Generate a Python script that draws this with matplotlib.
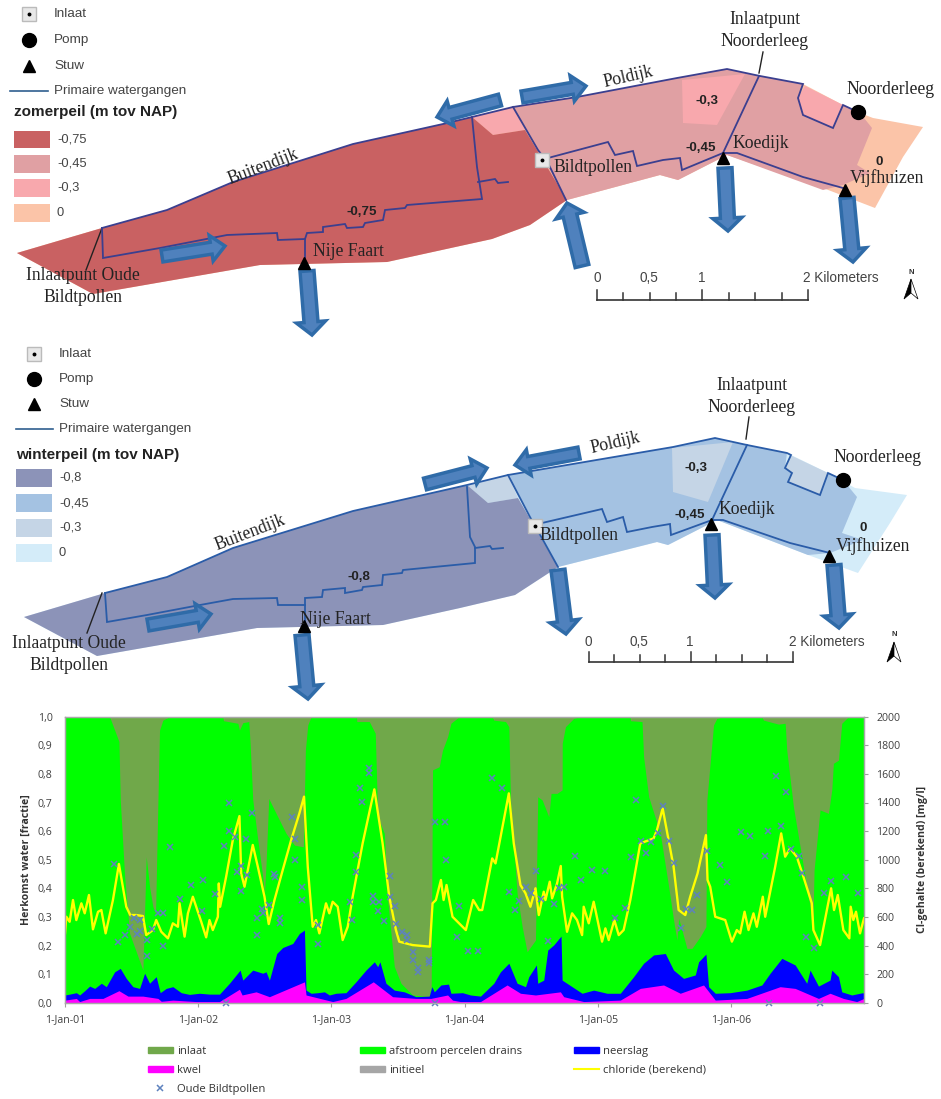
#!/usr/bin/python3

import matplotlib
matplotlib.use("Agg")
import matplotlib.pyplot as plt
from matplotlib.patches import Polygon, FancyArrow, Rectangle, Patch
from matplotlib.lines import Line2D

# ---- chart data: x is years since 1-Jan-01, fractions are cumulative tops of the stack
green_t = [0.0, .335, .373, .405, .415, .448, .485, .585, .61, .635, .66, .68, .698, .71, .735, .785,
           1.185, 1.19, 1.298, 1.31, 1.335, 1.38, 1.39, 1.41, 1.448, 1.485, 1.498, 1.51, 1.53, 1.585, 1.66, 1.723, 1.79, 1.798, 1.805, 1.823, 1.848,
           2.19, 2.191, 2.285, 2.33, 2.348, 2.398, 2.423, 2.473, 2.523, 2.61, 2.735, 2.75, 2.76, 2.81, 2.835, 2.873, 2.898, 2.96,
           3.208, 3.22, 3.308, 3.333, 3.345, 3.395, 3.433, 3.47, 3.533, 3.55, 3.583, 3.633, 3.65, 3.695, 3.733, 3.734, 3.758, 3.82, 3.87,
           4.245, 4.246, 4.333, 4.345, 4.383, 4.47, 4.533, 4.57, 4.595, 4.608, 4.633, 4.67, 4.708, 4.77, 4.813, 4.82, 4.87, 4.895, 4.945,
           5.233, 5.245, 5.358, 5.408, 5.42, 5.47, 5.545, 5.595, 5.615, 5.625, 5.67, 5.733, 5.758, 5.77, 5.808, 5.833, 5.883, 6.0]
green_top = [1.0, 1.0, .953, .913, .709, .441, .242, .114, .51, .406, .336, .312, .709, .953, .988, 1.0,
             1.0, .986, .977, .953, .979, .983, .907, .709, .569, .441, .382, .487, .714, .662, .592, .551, .545, .72, .883, .971, 1.0,
             1.0, .983, .983, .942, .65, .592, .359, .126, .068, .027, .021, .056, .814, .825, .883, .93, .977, 1.0,
             1.0, .988, .983, .965, .709, .382, .266, .178, .219, .72, .709, .65, .732, .732, .744, .907, .965, .994, 1.0,
             1.0, .986, .983, .86, .72, .592, .406, .289, .219, .295, .254, .19, .19, .231, .266, .709, .971, .994, 1.0,
             1.0, .988, .974, .977, .883, .685, .476, .336, .242, .464, .674, .662, .744, .837, .848, .977, 1.0, 1.0]

blue_t = [0.0, .035, .085, .11, .148, .185, .223, .273, .31, .373, .415, .46, .51, .56, .598, .635, .685, .715, .76, .81, .873, .935,
          1.01, 1.085, 1.16, 1.235, 1.315, 1.335, 1.41, 1.485, 1.51, 1.535, 1.59, 1.635, 1.71, 1.76, 1.798, 1.81, 1.848, 1.898, 1.948, 1.985,
          2.035, 2.11, 2.185, 2.26, 2.323, 2.348, 2.365, 2.41, 2.473, 2.548, 2.635, 2.735, 2.755, 2.773, 2.823, 2.88, 2.898, 2.985,
          3.045, 3.12, 3.22, 3.27, 3.333, 3.395, 3.458, 3.483, 3.54, 3.55, 3.595, 3.625, 3.67, 3.725, 3.733, 3.808, 3.883, 3.97,
          4.07, 4.17, 4.27, 4.345, 4.42, 4.508, 4.57, 4.645, 4.733, 4.758, 4.813, 4.833, 4.883, 4.995,
          5.12, 5.233, 5.295, 5.383, 5.483, 5.57, 5.595, 5.658, 5.745, 5.758, 5.808, 5.833, 5.908, 5.99, 6.0]
blue_top = [.027, .03, .035, .027, .042, .058, .05, .068, .056, .108, .12, .085, .056, .05, .103, .068, .091, .035, .05, .056, .035, .029,
            .033, .03, .03, .068, .114, .079, .114, .103, .108, .079, .172, .193, .207, .242, .254, .044, .033, .035, .038, .027,
            .033, .035, .073, .114, .143, .126, .143, .068, .044, .038, .021, .023, .056, .038, .062, .065, .033, .035,
            .027, .023, .068, .108, .138, .068, .056, .091, .132, .068, .079, .184, .202, .233, .079, .056, .033, .044,
            .033, .033, .091, .138, .167, .172, .114, .085, .097, .143, .17, .056, .033, .035,
            .044, .062, .103, .155, .132, .068, .114, .058, .079, .114, .091, .038, .027, .035, .033]

kwel_t = [0.0, .085, .11, .185, .285, .405, .473, .585, .698, .723, .81, .985, 1.16, 1.31, 1.33, 1.435, 1.535, 1.798, 1.81,
          2.01, 2.11, 2.315, 2.46, 2.635, 2.748, 2.873, 2.91, 2.97, 3.12, 3.32, 3.42, 3.533, 3.72, 3.745, 3.895,
          4.17, 4.32, 4.495, 4.62, 4.795, 4.883, 5.12, 5.37, 5.483, 5.658, 5.745, 5.845, 5.945, 6.0]
kwel_top = [.009, .015, .004, .015, .015, .042, .023, .023, .015, .005, .009, .004, .004, .047, .027, .038, .021, .073, .027,
            .004, .015, .073, .021, .015, .015, .027, .009, .004, .004, .062, .033, .027, .038, .021, .004,
            .009, .05, .062, .033, .062, .009, .015, .056, .05, .015, .033, .015, .004, .015]

chloride_t = [0.0, .01, .035, .06, .085, .123, .148, .18, .21, .248, .273, .305, .36, .405, .46, .49, .535, .585, .61, .66, .685, .723, .773, .81, .848, .86, .898, .923, .96,
              1.023, 1.06, 1.085, 1.11, 1.148, 1.155, 1.165, 1.21, 1.26, 1.31, 1.323, 1.348, 1.41, 1.448, 1.498, 1.53, 1.573, 1.635, 1.698, 1.76, 1.795, 1.823, 1.86, 1.885, 1.91, 1.96, 1.985,
              2.01, 2.048, 2.085, 2.123, 2.16, 2.235, 2.323, 2.385, 2.435, 2.485, 2.51, 2.61, 2.74, 2.76, 2.785, 2.823, 2.843, 2.865, 2.91, 2.96,
              3.01, 3.065, 3.11, 3.133, 3.208, 3.233, 3.333, 3.37, 3.42, 3.458, 3.495, 3.533, 3.558, 3.595, 3.608, 3.64, 3.658, 3.695, 3.723, 3.733, 3.77, 3.808, 3.845, 3.883, 3.895, 3.933, 3.97,
              4.033, 4.058, 4.083, 4.125, 4.158, 4.195, 4.245, 4.32, 4.42, 4.445, 4.488, 4.533, 4.57, 4.608, 4.658, 4.695, 4.75, 4.813, 4.825, 4.845, 4.883, 4.958,
              5.008, 5.045, 5.07, 5.103, 5.133, 5.17, 5.195, 5.24, 5.258, 5.333, 5.378, 5.408, 5.445, 5.495, 5.545, 5.608, 5.62, 5.67, 5.753, 5.775, 5.803, 5.845, 5.89, 5.9, 5.92, 5.94, 5.97, 6.0]
chloride_mgl = [485, 601, 566, 718, 578, 695, 625, 753, 513, 636, 648, 485, 718, 970, 671, 613, 613, 606, 473, 508, 578, 496, 450, 555, 531, 695, 462, 625, 741,
                566, 457, 578, 508, 601, 834, 671, 881, 1137, 1305, 904, 811, 1103, 951, 741, 550, 718, 928, 1137, 1324, 1441, 951, 531, 578, 485, 695, 625,
                706, 671, 438, 531, 741, 1114, 1492, 1114, 741, 508, 427, 403, 392, 695, 718, 858, 718, 823, 601, 555,
                508, 718, 648, 648, 1009, 974, 1464, 1114, 823, 765, 671, 800, 613, 776, 718, 846, 730, 834, 956, 741, 496, 625, 578, 473, 671, 555, 706,
                427, 520, 438, 578, 473, 508, 718, 1114, 1149, 1207, 1359, 1137, 951, 648, 613, 741, 904, 1172, 858, 811, 601, 578,
                427, 508, 485, 636, 508, 625, 531, 741, 601, 951, 1184, 1021, 1079, 1021, 881, 695, 508, 403, 800, 648, 753, 508, 450, 671, 578, 636, 485, 590]

oude_t = [.365, .40, .45, .485, .518, .54, .563, .563, .615, .615, .653, .70, .735, .735, .788, .865, .943,
          1.03, 1.038, 1.123, 1.193, 1.21, 1.23, 1.23, 1.28, 1.29, 1.323, 1.323, 1.36, 1.365, 1.403, 1.445, 1.445, 1.48, 1.49, 1.53, 1.568, 1.575, 1.615, 1.615, 1.703, 1.73, 1.73, 1.78, 1.78, 1.903, 1.903,
          2.143, 2.153, 2.188, 2.188, 2.218, 2.23, 2.28, 2.28, 2.315, 2.315, 2.36, 2.353, 2.395, 2.438, 2.438, 2.475, 2.483, 2.533, 2.565, 2.565, 2.61, 2.61, 2.648, 2.648, 2.735, 2.735, 2.775, 2.78, 2.853, 2.86, 2.955, 2.945,
          3.03, 3.105, 3.208, 3.285, 3.333, 3.378, 3.408, 3.463, 3.50, 3.535, 3.573, 3.628, 3.67, 3.708, 3.745, 3.828, 3.878, 3.958,
          4.058, 4.128, 4.203, 4.25, 4.288, 4.325, 4.365, 4.398, 4.453, 4.488, 4.538, 4.573, 4.623, 4.663, 4.708, 4.743, 4.82, 4.915, 4.97,
          5.08, 5.145, 5.26, 5.28, 5.283, 5.338, 5.375, 5.418, 5.453, 5.513, 5.533, 5.568, 5.625, 5.673, 5.703, 5.753, 5.865, 5.953]
oude_mgl = [967, 424, 471, 527, 590, 478, 578, 499, 438, 329, 517, 625, 625, 399, 1089, 725, 821,
            639, 860, 760, 1096, 0, 1394, 1200, 1161, 914, 953, 781, 1147, 890, 1329, 592, 471, 655, 625, 681, 900, 881, 592, 559, 1301, 1145, 1000, 807, 718, 543, 413,
            706, 580, 1033, 916, 1501, 1401, 1639, 1604, 746, 702, 702, 641, 573, 886, 737, 678, 550, 494, 471, 438, 352, 298, 240, 217, 298, 280, 0, 1261, 1261, 1000, 678, 459,
            359, 359, 1569, 1501, 772, 648, 713, 807, 765, 921, 725, 434, 688, 800, 807, 1028, 855, 928,
            921, 592, 660, 1021, 1415, 1133, 1047, 1126, 1189, 1375, 1133, 979, 524, 653, 646, 753, 1061, 960, 846,
            1193, 1168, 1028, 1200, 0, 1587, 1233, 1476, 1072, 1028, 907, 459, 385, 0, 767, 853, 879, 767]

year_ticks = [0, 1, 2, 3, 4, 5]
year_labels = ["1-Jan-01", "1-Jan-02", "1-Jan-03", "1-Jan-04", "1-Jan-05", "1-Jan-06"]
frac_ticks = [0.0, 0.1, 0.2, 0.3, 0.4, 0.5, 0.6, 0.7, 0.8, 0.9, 1.0]
frac_labels = ["0,0", "0,1", "0,2", "0,3", "0,4", "0,5", "0,6", "0,7", "0,8", "0,9", "1,0"]
cl_ticks = [0, 200, 400, 600, 800, 1000, 1200, 1400, 1600, 1800, 2000]

# ---- map data, in image pixels
zomer_outline = [(17, 253), (102, 228), (167, 210), (233, 182), (353, 144), (443, 124), (472, 117), (513, 107), (577, 97), (677, 78),
                 (727, 69), (760, 76), (803, 84), (843, 105), (860, 113), (873, 118), (923, 127), (903, 157), (875, 208), (823, 188),
                 (727, 155), (678, 180), (660, 175), (567, 200), (530, 225), (492, 239), (460, 246), (387, 262), (260, 265), (93, 294)]
zomer_mid = [(513, 107), (577, 97), (677, 78), (727, 69), (760, 76), (803, 84), (798, 98), (803, 115), (833, 128), (843, 105), (860, 113),
             (872, 128), (857, 165), (870, 173), (843, 185), (823, 190), (727, 155), (678, 180), (660, 175), (567, 200)]
zomer_high = [[(682, 80), (745, 74), (717, 125), (683, 123)],
              [(805, 86), (843, 105), (833, 128), (803, 115), (798, 98)],
              [(472, 117), (513, 107), (525, 130), (493, 135)]]
zomer_low = [(17, 253), (102, 228), (167, 210), (233, 182), (353, 144), (443, 124), (472, 117), (493, 135), (525, 130), (567, 200),
             (530, 225), (492, 239), (460, 246), (387, 262), (260, 265), (93, 294)]
zomer_lines = [
    [(102, 228), (167, 210), (233, 182), (353, 144), (443, 124), (472, 117), (513, 107), (577, 97), (677, 78), (727, 69), (760, 76), (803, 84),
     (798, 98), (803, 115), (833, 128), (843, 105), (858, 112)],
    [(102, 228), (103, 258), (160, 248), (227, 235), (277, 233), (278, 240), (305, 239), (307, 233), (323, 232), (323, 227), (345, 224),
     (347, 228), (363, 227), (365, 223), (383, 220), (385, 210), (405, 208), (407, 205), (482, 199), (477, 167), (472, 117)],
    [(478, 182), (495, 179), (498, 183), (508, 182)],
    [(305, 239), (305, 263)],
    [(513, 107), (538, 150), (548, 163), (566, 200)],
    [(548, 158), (608, 142), (615, 155), (633, 151), (637, 166), (663, 160), (680, 158), (682, 170), (723, 153)],
    [(723, 153), (759, 76)],
    [(723, 153), (737, 153), (803, 177), (843, 188)],
]
zomer_arrows = [(162, 256, 225, 246, 12, 26, 14), (307, 271, 312, 335, 14, 29, 13), (500, 100, 437, 117, 12, 26, 14), (522, 97, 586, 86, 12, 26, 14),
                (582, 266, 567, 203, 14, 29, 13), (725, 168, 728, 231, 14, 29, 13), (847, 198, 853, 262, 14, 29, 13)]

winter_outline = [(24, 617), (105, 593), (167, 577), (233, 548), (353, 511), (467, 485), (508, 475), (673, 447), (715, 438), (747, 445), (787, 453),
                  (828, 473), (855, 488), (907, 495), (890, 523), (858, 573), (808, 555), (717, 520), (668, 545), (657, 542), (558, 567), (515, 595),
                  (460, 608), (383, 625), (257, 628), (97, 656)]
winter_mid = [(508, 475), (673, 447), (715, 438), (747, 445), (787, 453), (785, 468), (792, 473), (788, 482), (820, 495), (828, 473), (843, 480),
              (857, 497), (842, 533), (863, 540), (830, 553), (808, 555), (717, 520), (668, 545), (657, 542), (558, 567)]
winter_high = [[(672, 448), (733, 442), (708, 502), (673, 492)],
               [(790, 455), (828, 473), (820, 495), (788, 482), (792, 473), (785, 468)],
               [(467, 485), (508, 475), (518, 498), (488, 503)]]
winter_low = [(24, 617), (105, 593), (167, 577), (233, 548), (353, 511), (467, 485), (488, 503), (518, 498), (558, 567), (515, 595),
              (460, 608), (383, 625), (257, 628), (97, 656)]
winter_lines = [
    [(105, 593), (167, 577), (233, 548), (353, 511), (467, 485), (508, 475), (673, 447), (715, 438), (747, 445), (787, 453),
     (791, 455), (785, 468), (792, 473), (788, 482), (820, 495), (828, 473), (843, 480)],
    [(105, 593), (107, 622), (147, 615), (200, 605), (233, 599), (277, 598), (278, 605), (305, 605), (305, 598), (322, 597), (323, 590), (345, 588),
     (345, 593), (362, 590), (363, 587), (382, 585), (383, 575), (402, 573), (403, 570), (475, 563), (475, 547), (470, 537), (467, 487)],
    [(475, 548), (490, 546), (492, 549), (503, 548)],
    [(305, 605), (305, 627)],
    [(508, 475), (530, 517), (543, 540), (558, 567)],
    [(542, 523), (602, 509), (607, 522), (623, 517), (627, 532), (652, 527), (670, 524), (671, 535), (712, 520)],
    [(712, 520), (747, 445)],
    [(712, 520), (723, 520), (790, 543), (830, 553)],
]
winter_arrows = [(148, 625, 211, 614, 12, 26, 14), (302, 635, 308, 699, 14, 29, 13), (425, 484, 487, 468, 12, 26, 14), (579, 453, 515, 465, 12, 26, 14),
                 (558, 570, 566, 634, 14, 29, 13), (712, 535, 715, 598, 14, 29, 13), (834, 565, 839, 628, 14, 29, 13)]

SERIF = "Liberation Serif"
SANS = "Liberation Sans"
CHART_FONT = "Open Sans"

fig = plt.figure(figsize=(9.41, 10.99), dpi=100)
mapax = fig.add_axes([0, 0, 1, 1])
mapax.set_xlim(0, 941)
mapax.set_ylim(1099, 0)
mapax.axis("off")


def draw_area(points, color, z=1):
    mapax.add_patch(Polygon(points, closed=True, facecolor=color, edgecolor="none", zorder=z))


def draw_lines(lines, color):
    for line in lines:
        xs = [p[0] for p in line]
        ys = [p[1] for p in line]
        mapax.plot(xs, ys, color=color, lw=1.3, zorder=3, solid_joinstyle="miter")


def draw_arrows(arrows):
    for x0, y0, x1, y1, w, hw, hl in arrows:
        mapax.add_patch(FancyArrow(x0, y0, x1 - x0, y1 - y0, width=w, head_width=hw, head_length=hl,
                                   length_includes_head=True, facecolor="#4F81BD", edgecolor="#2F6BA8", lw=2.5, zorder=5))


def map_text(x, y, s, size=12.7, rot=0):
    mapax.text(x, y, s, family=SERIF, fontsize=size, color="#222222", ha="center", va="center", rotation=rot, zorder=7)


def value_text(x, y, s):
    mapax.text(x, y, s, family=SANS, fontsize=9.6, fontweight="bold", color="#222222", ha="center", va="center", zorder=7)


def stuw(x, y):
    mapax.plot([x], [y], marker="^", ms=8.5, color="black", zorder=6, ls="none")


def pomp(x, y):
    mapax.plot([x], [y], marker="o", ms=10, color="black", zorder=6, ls="none")


def inlaat(x, y):
    mapax.plot([x], [y], marker="s", ms=9.5, mfc="#E8E8E8", mec="#BBBBBB", zorder=6, ls="none")
    mapax.plot([x], [y], marker="o", ms=1.8, color="black", zorder=7, ls="none")


def draw_legend(x_mark, x_text, x0, x1, x_swatch, ys, title, title_y, swatches, labels, colors, line_color):
    inlaat(x_mark, ys[0])
    pomp(x_mark, ys[1])
    stuw(x_mark, ys[2])
    mapax.plot([x0, x1], [ys[3], ys[3]], color=line_color, lw=1.2)
    for y, s in zip(ys, ["Inlaat", "Pomp", "Stuw", "Primaire watergangen"]):
        mapax.text(x_text, y, s, family=SANS, fontsize=9.7, color="#444444", va="center")
    mapax.text(x_swatch, title_y, title, family=SANS, fontsize=11, fontweight="bold", color="#222222", va="center")
    for (y0, y1), lab, col in zip(swatches, labels, colors):
        mapax.add_patch(Rectangle((x_swatch, y0), 36, y1 - y0, facecolor=col, edgecolor="none"))
        mapax.text(x_swatch + 43, (y0 + y1) / 2, lab, family=SANS, fontsize=9.3, color="#444444", va="center")


def scale_bar(x0, x1, y, text_y, label_x, km_x):
    mapax.plot([x0, x1], [y, y], color="#333333", lw=1.2, zorder=4)
    n = 8
    for i in range(n + 1):
        tall = i in (0, 4, 8)
        x = x0 + (x1 - x0) * i / n
        mapax.plot([x, x], [y, y - (10 if tall else 7)], color="#333333", lw=1.1, zorder=4)
    for x, s in zip(label_x, ["0", "0,5", "1"]):
        mapax.text(x, text_y, s, family=SANS, fontsize=9.8, color="#444444", ha="center", va="center")
    mapax.text(km_x, text_y, "2 Kilometers", family=SANS, fontsize=9.8, color="#444444", ha="left", va="center")


def north(x, y):
    mapax.text(x, y, "N", family=SANS, fontsize=5.5, fontweight="bold", color="#333333", ha="center", va="center")
    mapax.add_patch(Polygon([(x, y + 7), (x - 7, y + 27), (x, y + 21)], closed=True, facecolor="black", edgecolor="black", lw=0.5))
    mapax.add_patch(Polygon([(x, y + 7), (x + 7, y + 27), (x, y + 21)], closed=True, facecolor="white", edgecolor="black", lw=0.5))


# zomerpeil map
draw_area(zomer_outline, "#FBC4A8", 1)
draw_area(zomer_mid, "#E0A0A3", 1.1)
for patch in zomer_high:
    draw_area(patch, "#F8A8AD", 1.2)
draw_area(zomer_low, "#C96162", 1.3)
draw_lines(zomer_lines, "#3B3F8F")
draw_arrows(zomer_arrows)
mapax.plot([102, 86], [228, 270], color="#222222", lw=1)
mapax.plot([763, 759], [52, 73], color="#222222", lw=1)
stuw(304, 263)
stuw(723, 158)
stuw(845, 190)
pomp(858, 112)
inlaat(542, 160)
map_text(263, 167, "Buitendijk", rot=21)
map_text(83, 276, "Inlaatpunt Oude")
map_text(83, 298, "Bildtpollen")
map_text(348, 252, "Nije Faart")
map_text(628, 77, "Poldijk", rot=13)
map_text(765, 19, "Inlaatpunt")
map_text(765, 42, "Noorderleeg")
map_text(891, 90, "Noorderleeg")
map_text(761, 143, "Koedijk")
map_text(593, 168, "Bildtpollen")
map_text(887, 178, "Vijfhuizen")
value_text(362, 212, "-0,75")
value_text(707, 101, "-0,3")
value_text(701, 148, "-0,45")
value_text(879, 162, "0")
draw_legend(29, 54, 10, 48, 14, [14, 40, 66, 91], "zomerpeil (m tov NAP)", 112,
            [(131, 148), (155, 173), (179, 197), (204, 222)], ["-0,75", "-0,45", "-0,3", "0"],
            ["#C96162", "#E0A0A3", "#F8A8AD", "#FBC4A8"], "#2F5F8F")
scale_bar(597, 808, 300, 278, [597, 649, 702], 803)
north(911, 272)

# winterpeil map
draw_area(winter_outline, "#D4ECF9", 1)
draw_area(winter_mid, "#A4C2E2", 1.1)
for patch in winter_high:
    draw_area(patch, "#C5D5E6", 1.2)
draw_area(winter_low, "#8C93B8", 1.3)
draw_lines(winter_lines, "#2A5CA8")
draw_arrows(winter_arrows)
mapax.plot([102, 87], [593, 633], color="#222222", lw=1)
mapax.plot([749, 746], [417, 439], color="#222222", lw=1)
stuw(304, 626)
stuw(711, 524)
stuw(829, 556)
pomp(843, 480)
inlaat(535, 526)
map_text(250, 533, "Buitendijk", rot=21)
map_text(69, 643, "Inlaatpunt Oude")
map_text(69, 666, "Bildtpollen")
map_text(335, 619, "Nije Faart")
map_text(615, 443, "Poldijk", rot=13)
map_text(752, 386, "Inlaatpunt")
map_text(752, 408, "Noorderleeg")
map_text(878, 457, "Noorderleeg")
map_text(747, 510, "Koedijk")
map_text(579, 535, "Bildtpollen")
map_text(873, 546, "Vijfhuizen")
value_text(359, 577, "-0,8")
value_text(696, 468, "-0,3")
value_text(690, 515, "-0,45")
value_text(863, 528, "0")
draw_legend(34, 59, 16, 53, 16, [354, 379, 404, 429], "winterpeil (m tov NAP)", 455,
            [(469, 487), (494, 512), (519, 537), (544, 562)], ["-0,8", "-0,45", "-0,3", "0"],
            ["#8C93B8", "#A4C2E2", "#C5D5E6", "#D4ECF9"], "#2F5F8F")
scale_bar(589, 793, 662, 642, [588, 639, 690], 789)
north(894, 635)

# chart
ax = fig.add_axes([65 / 941, 1 - 1002.7 / 1099, 799 / 941, 286 / 1099])
ax.set_xlim(0, 6)
ax.set_ylim(0, 1)
ax.fill_between([0, 6], 0, 1, color="#70A84A", lw=0)
ax.fill_between(green_t, 0, green_top, color="#00FF00", lw=0)
ax.fill_between(blue_t, 0, blue_top, color="#0000FF", lw=0)
ax.fill_between(kwel_t, 0, kwel_top, color="#FF00FF", lw=0)
ax.set_xticks(year_ticks)
ax.set_xticklabels(year_labels, family=CHART_FONT, fontsize=7.6, color="#404040")
ax.set_yticks(frac_ticks)
ax.set_yticklabels(frac_labels, family=CHART_FONT, fontsize=7.6, color="#404040")
ax.tick_params(axis="x", length=3, color="#A0A0A0", pad=5)
ax.tick_params(axis="y", length=0, pad=9)
ax.set_ylabel("Herkomst water [fractie]", family=CHART_FONT, fontsize=7.6, fontweight="bold", color="#333333")
ax.yaxis.set_label_coords((32 - 65) / 799, 0.502)

ax2 = ax.twinx()
ax2.set_ylim(0, 2000)
ax2.plot(chloride_t, chloride_mgl, color="#FFFF00", lw=1.7)
ax2.plot(oude_t, oude_mgl, ls="none", marker="x", ms=4.2, mew=1.1, color="#5E82BE", clip_on=False)
ax2.set_yticks(cl_ticks)
ax2.set_yticklabels([str(v) for v in cl_ticks], family=CHART_FONT, fontsize=7.6, color="#404040")
ax2.tick_params(axis="y", length=3, color="#A0A0A0", pad=6)
ax2.set_ylabel("Cl-gehalte (berekend) [mg/l]", family=CHART_FONT, fontsize=7.6, fontweight="bold", color="#333333")
ax2.yaxis.set_label_coords((917 - 65) / 799, 0.502)
for a in (ax, ax2):
    for side in a.spines.values():
        side.set_color("#A8A8A8")
        side.set_linewidth(0.9)

col1 = [(Patch(color="#70A84A"), "inlaat"), (Patch(color="#FF00FF"), "kwel"),
        (Line2D([], [], ls="none", marker="x", ms=4.2, mew=1.1, color="#5E82BE"), "Oude Bildtpollen")]
col2 = [(Patch(color="#00FF00"), "afstroom percelen drains"), (Patch(color="#A6A6A6"), "initieel")]
col3 = [(Patch(color="#0000FF"), "neerslag"), (Line2D([], [], color="#FFFF00", lw=1.5), "chloride (berekend)")]
for col, px in zip([col1, col2, col3], [148, 360, 574]):
    fig.legend([c[0] for c in col], [c[1] for c in col], loc="upper left", bbox_to_anchor=(px / 941, 1 - 1046 / 1099),
               frameon=False, borderpad=0, borderaxespad=0, handlelength=2.2, handleheight=0.45, handletextpad=0.35, labelspacing=0.7,
               prop={"family": CHART_FONT, "size": 8.1}, labelcolor="#333333")

plt.savefig("out.png", dpi=100)
plt.close()
